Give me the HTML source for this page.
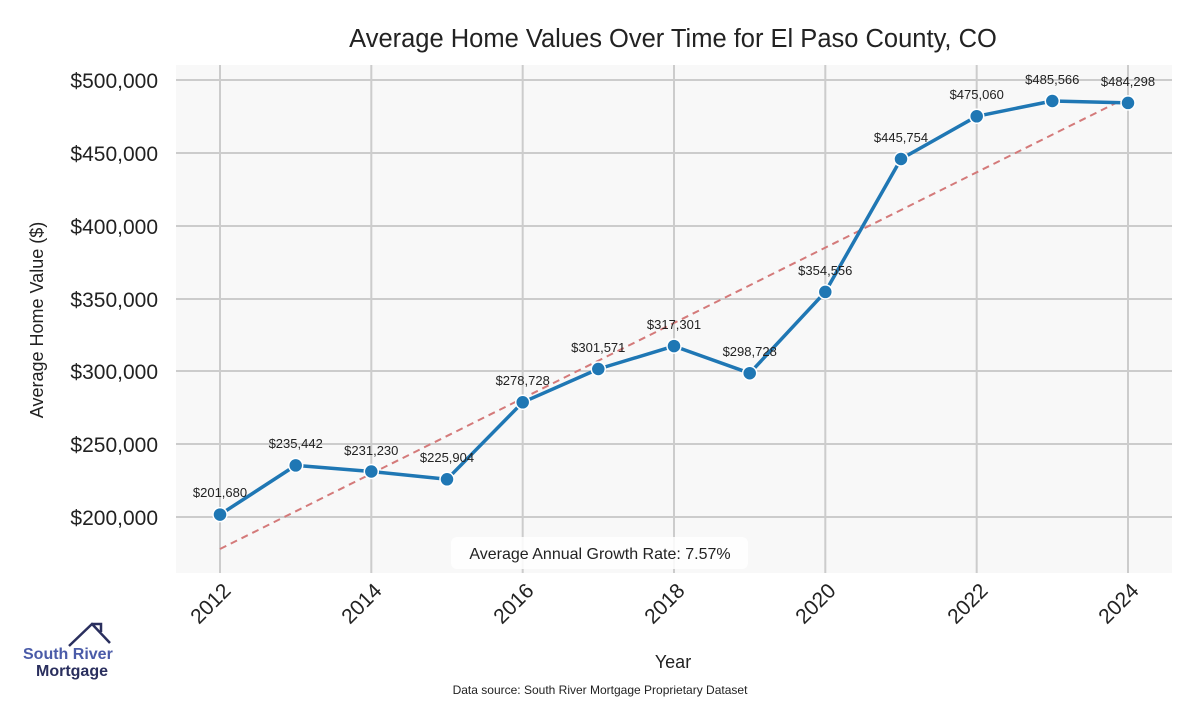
<!DOCTYPE html>
<html><head><meta charset="utf-8"><style>
body{margin:0;background:#fff;width:1200px;height:700px;overflow:hidden}
text{font-family:"Liberation Sans",sans-serif}
</style></head><body>
<svg width="1200" height="700" xmlns="http://www.w3.org/2000/svg">
<rect x="176" y="65" width="996" height="508" fill="#f8f8f8"/>
<g stroke="#cccccc" stroke-width="2">
<line x1="176" x2="1172" y1="80" y2="80"/><line x1="176" x2="1172" y1="153" y2="153"/><line x1="176" x2="1172" y1="226" y2="226"/><line x1="176" x2="1172" y1="299" y2="299"/><line x1="176" x2="1172" y1="371" y2="371"/><line x1="176" x2="1172" y1="444" y2="444"/><line x1="176" x2="1172" y1="517" y2="517"/>
<line y1="65" y2="573" x1="220" x2="220"/><line y1="65" y2="573" x1="371.3" x2="371.3"/><line y1="65" y2="573" x1="522.7" x2="522.7"/><line y1="65" y2="573" x1="674" x2="674"/><line y1="65" y2="573" x1="825.3" x2="825.3"/><line y1="65" y2="573" x1="976.7" x2="976.7"/><line y1="65" y2="573" x1="1128" x2="1128"/>
</g>
<line x1="220" y1="549" x2="1128" y2="97" stroke="#d47a7a" stroke-width="2" stroke-dasharray="7,5"/>
<polyline fill="none" stroke="#1f77b4" stroke-width="3.5" stroke-linejoin="round" points="220,514.6 295.7,465.4 371.3,471.5 447,479.3 522.7,402.3 598.3,369 674,346.1 749.7,373.2 825.3,291.9 901,159 976.7,116.3 1052.3,101 1128,102.9"/>
<g fill="#1f77b4" stroke="#fff" stroke-width="1.5">
<circle cx="220" cy="514.6" r="7"/><circle cx="295.7" cy="465.4" r="7"/><circle cx="371.3" cy="471.5" r="7"/><circle cx="447" cy="479.3" r="7"/><circle cx="522.7" cy="402.3" r="7"/><circle cx="598.3" cy="369" r="7"/><circle cx="674" cy="346.1" r="7"/><circle cx="749.7" cy="373.2" r="7"/><circle cx="825.3" cy="291.9" r="7"/><circle cx="901" cy="159" r="7"/><circle cx="976.7" cy="116.3" r="7"/><circle cx="1052.3" cy="101" r="7"/><circle cx="1128" cy="102.9" r="7"/>
</g>
<g font-size="13" fill="#222" text-anchor="middle">
<text x="220" y="497">$201,680</text><text x="295.7" y="448">$235,442</text><text x="371.3" y="455">$231,230</text><text x="447" y="462">$225,904</text><text x="522.7" y="385">$278,728</text><text x="598.3" y="352">$301,571</text><text x="674" y="329">$317,301</text><text x="749.7" y="356">$298,728</text><text x="825.3" y="275">$354,556</text><text x="901" y="142">$445,754</text><text x="976.7" y="99">$475,060</text><text x="1052.3" y="84">$485,566</text><text x="1128" y="86">$484,298</text>
</g>
<g font-size="21" fill="#222" text-anchor="end">
<text x="158" y="88">$500,000</text><text x="158" y="161">$450,000</text><text x="158" y="234">$400,000</text><text x="158" y="307">$350,000</text><text x="158" y="379">$300,000</text><text x="158" y="452">$250,000</text><text x="158" y="525">$200,000</text>
</g>
<g font-size="21" fill="#222" text-anchor="end">
<text transform="translate(232,592) rotate(-45)">2012</text><text transform="translate(383,592) rotate(-45)">2014</text><text transform="translate(535,592) rotate(-45)">2016</text><text transform="translate(686,592) rotate(-45)">2018</text><text transform="translate(837,592) rotate(-45)">2020</text><text transform="translate(989,592) rotate(-45)">2022</text><text transform="translate(1140,592) rotate(-45)">2024</text>
</g>
<rect x="451" y="537" width="297" height="32" rx="6" fill="#fff" opacity="0.85"/>
<text x="600" y="559" font-size="16" fill="#222" text-anchor="middle">Average Annual Growth Rate: 7.57%</text>
<text x="673" y="47" font-size="25.5" fill="#222" text-anchor="middle">Average Home Values Over Time for El Paso County, CO</text>
<text transform="translate(43,320) rotate(-90)" font-size="18" fill="#222" text-anchor="middle">Average Home Value ($)</text>
<text x="673" y="668" font-size="18" fill="#222" text-anchor="middle">Year</text>
<text x="600" y="694" font-size="12" fill="#222" text-anchor="middle">Data source: South River Mortgage Proprietary Dataset</text>
<polyline points="69,646 92,624 110,643" fill="none" stroke="#2a2f5e" stroke-width="2.5"/>
<polyline points="94,626 94,624 101,624 101,632" fill="none" stroke="#2a2f5e" stroke-width="2.5"/>
<text x="23" y="659" font-size="16" font-weight="bold" fill="#4a5ba8">South River</text>
<text x="36" y="676" font-size="16" font-weight="bold" fill="#2a2f5e">Mortgage</text>
</svg>
</body></html>
